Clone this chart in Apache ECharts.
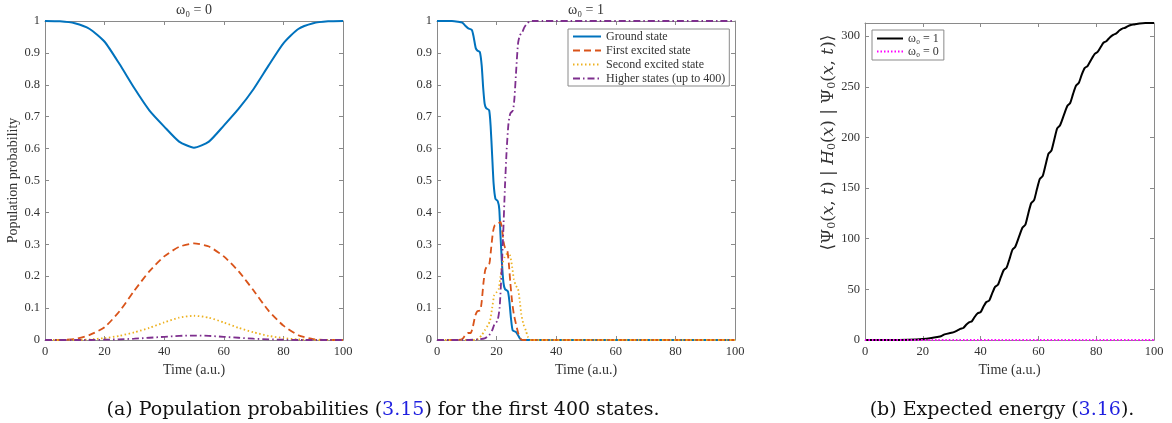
<!DOCTYPE html>
<html>
<head>
<meta charset="utf-8">
<script src="https://cdn.jsdelivr.net/npm/echarts/dist/echarts.min.js"></script>
<style>
  html, body { margin: 0; padding: 0; background: #fff; }
  #chart { width: 1172px; height: 423px; }
</style>
</head>
<body>
<div id="chart"></div>
<script>
// omega0 = 0 : [time, probability]
const ground0 = [[0,1],[5,0.999],[10,0.993],[15,0.975],[20,0.935],[25,0.865],[30,0.789],[35,0.72],[40,0.669],[45,0.622],[50,0.603],[55,0.622],[60,0.672],[65,0.725],[70,0.787],[75,0.86],[80,0.93],[85,0.975],[90,0.993],[95,0.999],[100,1]];
const first0 = [[0,0],[5,0],[10,0.003],[15,0.016],[20,0.04],[25,0.09],[30,0.155],[35,0.215],[40,0.262],[45,0.292],[50,0.303],[55,0.293],[60,0.262],[65,0.215],[70,0.155],[75,0.092],[80,0.045],[85,0.015],[90,0.003],[95,0],[100,0]];
const second0 = [[0,0],[10,0],[15,0.002],[20,0.006],[25,0.013],[30,0.024],[35,0.038],[40,0.055],[45,0.07],[50,0.076],[55,0.07],[60,0.055],[65,0.038],[70,0.024],[75,0.013],[80,0.006],[85,0.002],[90,0],[100,0]];
const higher0 = [[0,0],[15,0],[20,0.001],[25,0.002],[30,0.004],[35,0.007],[40,0.01],[45,0.013],[50,0.014],[55,0.013],[60,0.01],[65,0.007],[70,0.004],[75,0.002],[80,0.001],[85,0],[100,0]];

// omega0 = 1
const ground1 = [[0,1],[5,1],[7,0.998],[8.5,0.995],[9.5,0.985],[10.5,0.977],[11.7,0.972],[12.3,0.95],[13,0.915],[13.6,0.907],[14.4,0.902],[15,0.86],[15.5,0.79],[16,0.74],[16.5,0.727],[17.5,0.72],[18,0.67],[18.5,0.58],[19,0.49],[19.6,0.443],[20.4,0.435],[20.9,0.41],[21.3,0.33],[21.8,0.24],[22.3,0.18],[22.8,0.16],[23.8,0.152],[24.3,0.12],[24.8,0.07],[25.4,0.03],[26.5,0.025],[27.2,0.015],[27.8,0.005],[28.5,0],[100,0]];
const first1 = [[0,0],[7,0],[8.5,0.003],[9.5,0.015],[10.5,0.022],[11.3,0.022],[12,0.04],[12.8,0.075],[13.5,0.09],[14.5,0.093],[15,0.12],[15.6,0.18],[16.2,0.22],[17,0.235],[17.6,0.24],[18.2,0.29],[18.8,0.34],[19.4,0.36],[20.5,0.365],[21.3,0.37],[21.8,0.35],[22.3,0.31],[22.8,0.29],[23.6,0.28],[24.1,0.24],[24.6,0.18],[25.2,0.12],[25.8,0.08],[26.5,0.05],[27.3,0.02],[28,0.005],[28.8,0],[100,0]];
const second1 = [[0,0],[13,0],[14,0.005],[15,0.015],[16,0.03],[17,0.045],[17.8,0.06],[18.5,0.1],[19.2,0.14],[20,0.15],[20.7,0.16],[21.3,0.2],[22,0.24],[22.7,0.26],[23.5,0.27],[24.5,0.265],[25.2,0.23],[25.8,0.19],[26.5,0.17],[27.2,0.16],[27.8,0.12],[28.3,0.08],[29,0.05],[29.8,0.03],[30.5,0.01],[31.5,0],[100,0]];
const higher1 = [[0,0],[10,0],[14,0.002],[16,0.005],[17.5,0.015],[18.5,0.03],[19.3,0.05],[20.3,0.06],[21,0.1],[21.6,0.2],[22.2,0.33],[22.8,0.48],[23.4,0.6],[24,0.68],[24.6,0.71],[25.5,0.72],[26,0.76],[26.6,0.85],[27.2,0.93],[27.8,0.955],[28.6,0.965],[29.3,0.98],[30,0.99],[31,0.998],[32,1],[100,1]];

// expected energy
const energy1 = [[0,0],[10,0.1],[15,0.3],[20,1],[23,2],[25,3],[26.5,4],[27.5,5.5],[29.5,7],[30.5,7.5],[32,9.5],[33,11],[34,11.8],[35,15],[36,17.5],[37,18.5],[38,23],[39,26.5],[40,27.5],[41,33],[42,37.5],[43,39],[44,46],[45,52.5],[46,54.5],[47,62],[48,69],[49,71.5],[50,80],[51,89],[52,92],[53.3,102],[54.5,111],[55.5,114],[56.5,125],[57.5,135],[58.5,138],[59.5,149],[60.5,159],[61.5,162],[62.5,173],[63.5,184],[64.5,187],[65.5,198],[66.5,209],[67.5,212],[68.8,222],[70,231],[71,234],[72,243],[73,251],[74,254],[75,262],[76,268.5],[77,270.5],[78.3,277],[79.5,282.5],[80.5,284.5],[81.5,289],[82.5,293.5],[83.5,295],[84.8,299],[86,301.5],[87,302.8],[88,305.5],[89,307.5],[90,308.3],[91,310],[92,311],[93,311.5],[95,312.5],[97,313],[100,313]];
const energy0 = [[0,0],[25,0],[50,0],[75,0],[100,0]];

const stateNames = ['Ground state', 'First excited state', 'Second excited state', 'Higher states (up to 400)'];
const energyNames = ['ω₀ = 1', 'ω₀ = 0'];

const FONT = 'Liberation Serif';
const WIDE_FONT = 'DejaVu Serif';
const AXIS_COLOR = '#8a8a8a';
const TEXT_COLOR = '#333';

const grids = [
  { left: 45, top: 21, width: 298, height: 319 },
  { left: 437, top: 21, width: 298, height: 319 },
  { left: 865, top: 23, width: 289, height: 317 }
];

// boxed axes, ticks pointing inwards on all four sides
function makeAxis(gridIndex, position, min, max, interval, showLabel, name) {
  return {
    type: 'value',
    gridIndex: gridIndex,
    position: position,
    min: min,
    max: max,
    interval: interval,
    name: name || '',
    nameLocation: 'middle',
    axisLine: { show: true, onZero: false, lineStyle: { color: AXIS_COLOR, width: 1 } },
    axisTick: { show: true, inside: true, length: 4, lineStyle: { color: AXIS_COLOR } },
    axisLabel: { show: showLabel, color: TEXT_COLOR, fontFamily: FONT, fontSize: 12.5, margin: 5, showMaxLabel: max === 313 ? false : null },
    splitLine: { show: false }
  };
}

const xAxes = [];
const yAxes = [];
for (let i = 0; i < 3; i++) {
  const xa = makeAxis(i, 'bottom', 0, 100, 20, true, 'Time (a.u.)');
  xa.nameGap = 18;
  xa.nameTextStyle = { color: TEXT_COLOR, fontFamily: FONT, fontSize: 14 };
  xAxes.push(xa);
}
for (let i = 0; i < 3; i++) xAxes.push(makeAxis(i, 'top', 0, 100, 20, false));

const y0 = makeAxis(0, 'left', 0, 1, 0.1, true, 'Population probability');
y0.nameGap = 25;
y0.nameTextStyle = { color: TEXT_COLOR, fontFamily: FONT, fontSize: 14 };
yAxes.push(y0);
yAxes.push(makeAxis(1, 'left', 0, 1, 0.1, true));
const y2 = makeAxis(2, 'left', 0, 313, 50, true,
  '{n|⟨Ψ}{s|0}{n|(}{i|x}{n|, }{i|t}{n|) | }{i|H}{s|0}{n|(}{i|x}{n|) | Ψ}{s|0}{n|(}{i|x}{n|, }{i|t}{n|)⟩}');
y2.nameGap = 25;
// the label sits above the middle of the axis in the original
y2.nameTextStyle = {
  color: TEXT_COLOR, fontFamily: WIDE_FONT, fontSize: 17,
  padding: [0, 0, 0, 78],
  rich: {
    n: { color: TEXT_COLOR, fontFamily: WIDE_FONT, fontSize: 17 },
    i: { color: TEXT_COLOR, fontFamily: WIDE_FONT, fontSize: 17, fontStyle: 'italic' },
    s: { color: TEXT_COLOR, fontFamily: WIDE_FONT, fontSize: 11, verticalAlign: 'bottom', padding: [7, 0, 0, 0] }
  }
};
yAxes.push(y2);
for (let i = 0; i < 3; i++) {
  yAxes.push(i < 2 ? makeAxis(i, 'right', 0, 1, 0.1, false) : makeAxis(i, 'right', 0, 313, 50, false));
}

const colors = ['#0072BD', '#D95319', '#EDB120', '#7E2F8E'];
const dashes = ['solid', [7, 4], [1.5, 2.5], [7, 3, 1.5, 3]];
const widths = [2, 1.8, 1.8, 1.8];

function lineSeries(name, data, idx, color, dash, width) {
  return {
    name: name,
    type: 'line',
    xAxisIndex: idx,
    yAxisIndex: idx,
    data: data,
    showSymbol: false,
    symbol: 'none',
    clip: false,
    smooth: 0.2,
    animation: false,
    lineStyle: { color: color, type: dash, width: width },
    itemStyle: { color: color }
  };
}

const series = [];
[ground0, first0, second0, higher0].forEach(function (d, k) {
  series.push(lineSeries(stateNames[k], d, 0, colors[k], dashes[k], widths[k]));
});
[ground1, first1, second1, higher1].forEach(function (d, k) {
  series.push(lineSeries(stateNames[k], d, 1, colors[k], dashes[k], widths[k]));
});
series.push(lineSeries(energyNames[0], energy1, 2, '#000000', 'solid', 2));
series.push(lineSeries(energyNames[1], energy0, 2, '#FF00FF', [1.5, 2], 2));

const legendText = { color: TEXT_COLOR, fontFamily: FONT, fontSize: 12 };
const titleText = { fontFamily: FONT, fontSize: 14, fontWeight: 'normal', color: TEXT_COLOR };

const option = {
  animation: false,
  backgroundColor: '#ffffff',
  title: [
    { text: 'ω₀ = 0', left: 194, top: 3, padding: 0, textAlign: 'center', textStyle: titleText },
    { text: 'ω₀ = 1', left: 586, top: 3, padding: 0, textAlign: 'center', textStyle: titleText }
  ],
  grid: grids,
  xAxis: xAxes,
  yAxis: yAxes,
  legend: [
    {
      data: stateNames,
      orient: 'vertical',
      left: 568,
      top: 29,
      itemWidth: 28,
      itemHeight: 12,
      itemGap: 2,
      padding: [1.5, 4, 1.5, 4],
      backgroundColor: '#fff',
      borderColor: AXIS_COLOR,
      borderWidth: 1,
      itemStyle: { opacity: 0 },
      textStyle: legendText,
      selectedMode: false
    },
    {
      data: energyNames,
      orient: 'vertical',
      left: 872,
      top: 30,
      itemWidth: 26,
      itemHeight: 12,
      itemGap: 1,
      padding: [2.5, 5, 2.5, 4],
      backgroundColor: '#fff',
      borderColor: AXIS_COLOR,
      borderWidth: 1,
      itemStyle: { opacity: 0 },
      textStyle: legendText,
      selectedMode: false
    }
  ],
  graphic: [
    {
      type: 'text', x: 383, y: 410,
      style: {
        text: '(a) Population probabilities ({b|3.15}) for the first 400 states.',
        fill: '#111', font: '19px "DejaVu Serif"',
        align: 'center', verticalAlign: 'middle',
        rich: { b: { fill: '#1f1fe0', fontFamily: WIDE_FONT, fontSize: 19 } }
      }
    },
    {
      type: 'text', x: 1002, y: 410,
      style: {
        text: '(b) Expected energy ({b|3.16}).',
        fill: '#111', font: '19px "DejaVu Serif"',
        align: 'center', verticalAlign: 'middle',
        rich: { b: { fill: '#1f1fe0', fontFamily: WIDE_FONT, fontSize: 19 } }
      }
    }
  ],
  series: series
};

const myChart = echarts.init(document.getElementById('chart'));
myChart.setOption(option);
window.addEventListener('resize', function () { myChart.resize(); });
</script>
</body>
</html>
